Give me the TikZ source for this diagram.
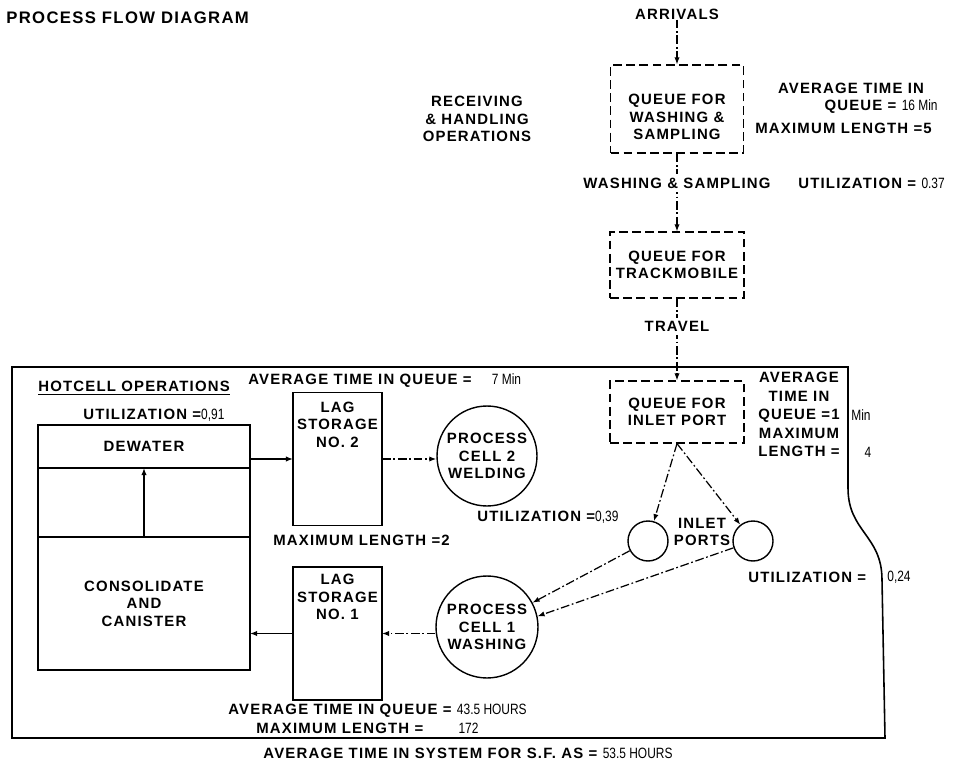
\documentclass[tikz,border=0pt]{standalone}
\usepackage{fontspec}
\setmainfont{Liberation Sans}[LetterSpace=8]
\newfontfamily\valfont{Liberation Sans}[FakeStretch=0.8]
\usepackage{tikz}
\usetikzlibrary{positioning, arrows.meta}
\tikzset{
    queuenode/.style={
        rectangle,
        draw,
        dash pattern=on 5pt off 2.5pt, % 虚线框
        line width=0.7pt,
        align=center,
        inner sep=0,
        font=\bfseries\fontsize{8.5}{10}\selectfont
    },
    boxnode/.style={
        rectangle,
        draw,
        line width=0.8pt, % 实线框
        outer sep=0,
        align=center,
        inner sep=0,
        font=\bfseries\fontsize{8.5}{10}\selectfont
    },
    lagnode/.style={
        boxnode,
        minimum width=1.78cm,
        minimum height=2.65cm
    },
    cellnode/.style={
        circle,
        draw,
        line width=0.8pt,
        minimum size=2cm,
        inner sep=0,
        align=center,
        font=\bfseries\fontsize{8.5}{10}\selectfont
    },
    portnode/.style={
        circle,
        draw,
        line width=0.8pt,
        minimum size=0.8cm,
        inner sep=0
    },
    lbl/.style={
        inner sep=0,
        align=center,
        font=\bfseries\fontsize{8.5}{10}\selectfont
    },
    valtxt/.style={
        inner sep=0,
        font=\valfont\fontsize{8.5}{10}\selectfont
    },
    flow/.style={
        -{Latex[length=4pt,width=3pt]},
        line width=0.7pt,
        dash pattern=on 5pt off 1.5pt on 1pt off 1.5pt % 点划线
    },
    solidflow/.style={
        -{Latex[length=4pt,width=3pt]},
        line width=0.7pt
    }
}

\begin{document}
\begin{tikzpicture}[x=0.02cm, y=-0.02cm]
    \useasboundingbox (0,0) rectangle (953,763);
    % 标题
    \node[lbl, anchor=west] (title) at (6,18) {\fontsize{9.5}{11}\selectfont PROCESS FLOW DIAGRAM};
    % 接收与处理
    \node[lbl] (arrivals) at (677,14) {ARRIVALS};
    \node[queuenode, minimum width=2.66cm, minimum height=1.76cm,
        label={[lbl, yshift=-4.5pt]center:{QUEUE FOR\\WASHING \&\\SAMPLING}}] (qwash) at (677,109) {};
    \node[lbl] (avgwash) at (851,88) {AVERAGE TIME IN};
    \node[lbl, anchor=east] (qwashtime) at (938,107) {QUEUE = {\valfont\mdseries 16 Min}};
    \node[lbl, anchor=west] (maxwash) at (755,128) {MAXIMUM LENGTH =5};
    \node[lbl, anchor=west] (utilwash) at (798,183) {UTILIZATION = {\valfont\mdseries 0.37}};
    \node[lbl] (recv) at (477,119) {RECEIVING\\\& HANDLING\\OPERATIONS};
    \node[queuenode, minimum width=2.68cm, minimum height=1.32cm] (qtrack) at (677,265) {QUEUE FOR\\TRACKMOBILE};
    \node[queuenode, minimum width=2.68cm, minimum height=1.24cm] (qinlet) at (677,412) {QUEUE FOR\\INLET PORT};
    \node[lbl, font=\bfseries\fontsize{8.5}{10.6}\selectfont] (inletstat) at (799,414.5) {AVERAGE\\TIME IN\\QUEUE =1\\MAXIMUM\\LENGTH =};
    \node[valtxt] (inletmin) at (861,415) {Min};
    \node[valtxt] (inletlen) at (868,452) {4};

    % 热室边界
    \draw[line width=0.9pt] (12,367) -- (848,367) -- (848,488)
        .. controls (848,532) and (882,535) .. (882,580) -- (885,738) -- (12,738) -- cycle;

    % 热室
    \node[lbl, anchor=west] (hotcell) at (38,388) {\underline{HOTCELL OPERATIONS}};
    \node[lbl, anchor=west] (utilhot) at (83,415) {UTILIZATION ={\valfont\mdseries 0,91}};
    \node[boxnode, minimum width=4.24cm, minimum height=0.86cm] (dewater) at (144,446.5) {DEWATER};
    \node[boxnode, minimum width=4.24cm, minimum height=1.38cm, below=0pt of dewater] (transfer) {};
    \node[boxnode, minimum width=4.24cm, minimum height=2.66cm, below=0pt of transfer] (consol) {CONSOLIDATE\\AND\\CANISTER};
    \node[lbl, anchor=west] (avglag2) at (248,381) {AVERAGE TIME IN QUEUE = \quad{\valfont\mdseries 7 Min}};
    \node[lagnode, label={[lbl, anchor=north, yshift=-5pt]north:{LAG\\STORAGE\\NO. 2}}] (lag2) at (337.5,459) {};
    \node[lbl, anchor=west] (maxlag2) at (273,540) {MAXIMUM LENGTH =2};
    \node[cellnode] (cell2) at (487,456) {PROCESS\\CELL 2\\WELDING};
    \node[lbl, anchor=west] (utilcell2) at (477,517) {UTILIZATION ={\valfont\mdseries 0,39}};
    \node[portnode] (portL) at (648,541) {};
    \node[portnode] (portR) at (753,541) {};
    \node[lbl] (inletports) at (702,532) {INLET\\PORTS};
    \node[lbl, anchor=west] (utilport) at (748,577) {UTILIZATION =};
    \node[valtxt] (utilportval) at (899,577) {0,24};
    \node[cellnode, minimum size=2.04cm] (cell1) at (487,627) {PROCESS\\CELL 1\\WASHING};
    \node[lagnode, minimum height=2.66cm, label={[lbl, anchor=north, yshift=-4pt]north:{LAG\\STORAGE\\NO. 1}}] (lag1) at (337.5,633.5) {};
    \node[lbl, anchor=west] (avglag1) at (228,711) {AVERAGE TIME IN QUEUE = {\valfont\mdseries 43.5 HOURS}};
    \node[lbl, anchor=west] (maxlag1) at (256,728) {MAXIMUM LENGTH = \qquad{\valfont\mdseries 172}};
    \node[lbl] (systime) at (468,753) {AVERAGE TIME IN SYSTEM FOR S.F. AS = {\valfont\mdseries 53.5 HOURS}};

    % 流程箭头
    \draw[flow] (arrivals) -- (qwash);
    \draw[flow] (qwash) -- node[lbl, fill=white, pos=0.38, inner ysep=2pt] (washing) {WASHING \& SAMPLING} (qtrack);
    \draw[flow] (qtrack) -- node[lbl, fill=white, pos=0.34, inner ysep=2pt] (travel) {TRAVEL} (qinlet);
    \draw[flow] (qinlet.south) -- (portL);
    \draw[flow] (qinlet.south) -- (portR);
    \draw[flow] (portL) -- (cell1);
    \draw[flow] (portR) -- (cell1.12);
    \draw[flow] (lag1.east -| cell1.west) -- (lag1.east);
    \draw[solidflow] (lag1.west) -- (lag1.west -| consol.east);
    \draw[solidflow] (consol.north) -- (dewater.south);
    \draw[solidflow] (lag2.west -| dewater.east) -- (lag2.west);
    \draw[flow] (lag2.east) -- (lag2.east -| cell2.west);
\end{tikzpicture}
\end{document}
